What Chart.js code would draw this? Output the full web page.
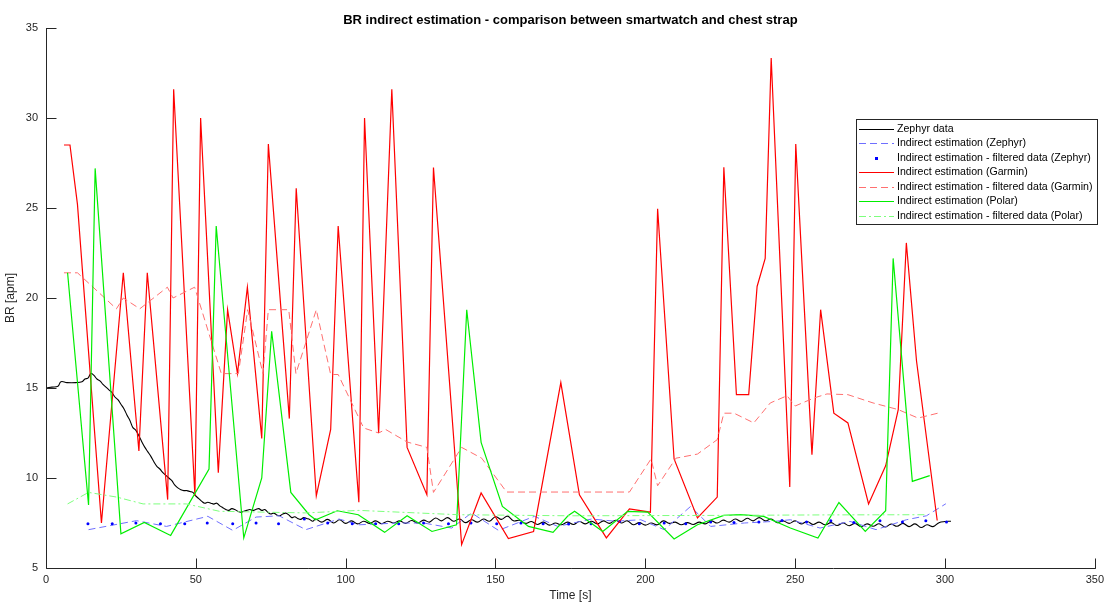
<!DOCTYPE html>
<html>
<head>
<meta charset="utf-8">
<script src="https://cdn.jsdelivr.net/npm/chart.js@4.4.1/dist/chart.umd.min.js"></script>
<style>
  html, body { margin: 0; padding: 0; background: #fff; }
</style>
</head>
<body>
<canvas id="c" width="1109" height="604"></canvas>
<script>
// valores

const zephyrT = [0, 2, 4, 5, 7, 10, 12, 13, 14, 15, 16, 17, 18, 19, 20, 21, 22, 23, 24, 25, 26, 27, 28, 29,
  30, 31, 32, 33, 34, 35, 36, 37, 38, 39, 40, 41, 42, 43, 44, 45, 46, 47, 48, 49, 50, 51, 52, 53, 54, 55, 56,
  57, 58, 59, 60, 61, 62, 63, 64, 65, 66, 67, 68, 69, 70, 71, 72, 73, 74, 75, 76, 77, 78, 79, 80, 81, 82, 83,
  84, 85, 86, 87, 88, 89,
  90, 92, 94, 96, 98, 100, 102, 104, 106, 108, 110, 112, 114, 116, 118, 120, 122, 124, 126, 128, 130, 132,
  134, 136, 138, 140, 142, 144, 146, 148, 150, 152, 154, 156, 158, 160, 162, 164, 166, 168, 170, 172, 174,
  176, 178, 180, 182, 184, 186, 188, 190, 192, 194, 196, 198, 200, 202, 204, 206, 208, 210, 212, 214, 216,
  218, 220, 222, 224, 226, 228, 230, 232, 234, 236, 238, 240, 242, 244, 246, 248, 250, 252, 254, 256, 258,
  260, 262, 264, 266, 268, 270, 272, 274, 276, 278, 280, 282, 284, 286, 288, 290, 292, 294, 296, 298, 300, 302];
const zephyrBR = [15.0, 15.05, 15.1, 15.35, 15.3, 15.3, 15.35, 15.5, 15.55, 15.8, 15.7, 15.5, 15.4, 15.2, 15.05,
  14.9, 14.75, 14.5, 14.35, 14.1, 13.85, 13.5, 13.2, 12.8, 12.65, 12.35, 12.0, 11.7, 11.45, 11.2, 10.9, 10.65,
  10.5, 10.3, 10.15, 10.0, 9.85, 9.6, 9.45, 9.35, 9.3, 9.3, 9.25, 9.2, 9.0, 8.85, 8.7, 8.6, 8.65, 8.6, 8.55,
  8.6, 8.45, 8.35, 8.25, 8.2, 8.3, 8.25, 8.15, 8.1, 8.15, 8.2, 8.25, 8.2, 8.25, 8.3, 8.2, 8.25, 8.1, 8.0, 8.05,
  7.95, 7.9, 8.0, 8.05, 7.95, 7.8, 7.85, 7.75, 7.7, 7.8, 7.75, 7.7, 7.6,
  7.72, 7.55, 7.70, 7.50, 7.68, 7.48, 7.62, 7.45, 7.60, 7.48, 7.62, 7.46, 7.60, 7.50, 7.62, 7.48, 7.64, 7.50,
  7.66, 7.55, 7.78, 7.62, 7.80, 7.60, 7.72, 7.52, 7.68, 7.55, 7.72, 7.60, 7.85, 7.70, 7.88, 7.62, 7.65, 7.48,
  7.58, 7.42, 7.55, 7.38, 7.50, 7.40, 7.55, 7.42, 7.58, 7.45, 7.60, 7.45, 7.62, 7.48, 7.65, 7.50, 7.62, 7.40,
  7.52, 7.38, 7.50, 7.40, 7.62, 7.48, 7.55, 7.40, 7.52, 7.42, 7.55, 7.45, 7.62, 7.50, 7.66, 7.55, 7.72, 7.58,
  7.76, 7.62, 7.80, 7.62, 7.72, 7.52, 7.62, 7.48, 7.62, 7.45, 7.58, 7.42, 7.55, 7.40, 7.52, 7.36, 7.50, 7.35,
  7.48, 7.30, 7.45, 7.32, 7.46, 7.28, 7.44, 7.32, 7.48, 7.30, 7.45, 7.25, 7.40, 7.30, 7.52, 7.58, 7.60];

const zIndT = [14.2, 30.2, 40.2, 54, 62.3, 70.1, 77.8, 86.7, 97.8, 104.4, 117.7, 126, 135.4, 142, 151, 163,
  170.8, 182, 190, 198.5, 206.3, 215.1, 221.8, 233, 243, 248.4, 258.3, 268.3, 277, 287.1, 293.8, 300.3];
const zIndBR = [7.13, 7.63, 7.31, 7.87, 7.09, 7.83, 7.9, 7.13, 7.72, 7.4, 7.5, 7.5, 7.22, 8.06, 7.09, 7.87,
  7.31, 7.72, 7.6, 7.68, 7.13, 8.42, 7.31, 7.5, 7.59, 7.68, 7.22, 7.59, 7.13, 7.68, 7.9, 8.57];

const zFiltT = [14, 22.1, 30, 38.2, 46.3, 53.8, 62.3, 70.1, 77.6, 86.2, 94, 102.2, 110, 117.7, 126, 134.3,
  141.8, 150.4, 158.5, 165.9, 174.4, 181.9, 191.4, 198, 206.3, 213.5, 221.8, 229.6, 237.9, 245.6, 253.8,
  261.9, 269.6, 278.3, 285.8, 293.6, 300.5];
const zFiltBR = [7.46, 7.46, 7.5, 7.46, 7.46, 7.5, 7.46, 7.5, 7.46, 7.72, 7.5, 7.46, 7.46, 7.46, 7.5, 7.46,
  7.5, 7.46, 7.5, 7.46, 7.44, 7.46, 7.59, 7.46, 7.5, 7.46, 7.55, 7.53, 7.55, 7.64, 7.55, 7.63, 7.53, 7.63,
  7.55, 7.63, 7.55];

const garminT = [6, 8, 10.5, 18.5, 25.8, 31, 33.8, 40.6, 42.6, 49.7, 51.6, 57.5, 60.6, 63.9, 67.2, 72, 74.2,
  81.2, 83.5, 90.2, 95, 97.5, 104.4, 106.3, 111, 115.4, 120.5, 127.1, 129.3, 138.7, 145.2, 154.3, 162.7, 171.8,
  178, 187, 194.7, 201.7, 204.1, 209.6, 217.4, 224, 226.2, 230.4, 234.5, 237.3, 240, 242, 248.2, 250.2, 255.6,
  258.5, 262.9, 267.6, 274.5, 280.2, 284.4, 287.1, 290.5, 297.4];
const garminBR = [28.5, 28.5, 25.2, 7.5, 21.4, 11.5, 21.4, 8.8, 31.6, 9.0, 30.0, 10.3, 19.35, 15.8, 20.6, 12.2,
  28.55, 13.3, 26.1, 9.0, 12.7, 24.0, 8.65, 30.0, 12.5, 31.6, 11.7, 9.07, 27.25, 6.3, 9.17, 6.63, 7.03, 15.3,
  9.07, 6.67, 8.28, 8.1, 24.96, 11.06, 7.78, 8.94, 27.26, 14.63, 14.63, 20.64, 22.2, 33.33, 9.5, 28.55, 11.3,
  19.35, 13.6, 13.06, 8.56, 10.68, 13.8, 23.06, 16.5, 7.64];

const gFiltT = [6, 10.5, 23.5, 25.8, 31.3, 40.5, 42.4, 49.6, 58.5, 64.2, 67.3, 72.4, 74.2, 81, 83.4, 90.2, 95,
  97.5, 106, 111, 113.3, 120.5, 127.1, 129.3, 138.7, 145.4, 153.7, 194.7, 201.9, 204.1, 210.2, 217.4, 224,
  226.2, 229.6, 236.2, 241.7, 247.3, 250, 256.2, 260.6, 267.6, 276, 284.4, 291, 298.8];
const gFiltBR = [21.4, 21.4, 19.4, 20.0, 19.4, 20.6, 20.0, 20.6, 15.8, 15.8, 19.35, 15.8, 19.35, 19.35, 15.8,
  19.35, 15.75, 15.75, 12.78, 12.5, 12.7, 12.0, 11.7, 9.2, 11.7, 11.1, 9.22, 9.22, 11.06, 9.57, 11.1, 11.33,
  12.13, 13.6, 13.6, 13.06, 14.17, 14.57, 14.0, 14.44, 14.67, 14.63, 14.17, 13.8, 13.33, 13.65];

const polarT = [7.2, 14.2, 16.4, 25, 32.8, 41.6, 54.4, 56.8, 66, 72, 75.3, 81.7, 87.8, 90, 97.2, 104.2, 113,
  120.5, 128.8, 137, 140.4, 145.2, 152.3, 161, 169.2, 174.2, 176.4, 185.8, 194.1, 200.8, 209.6, 217.4, 226.2,
  231.8, 239.5, 248.4, 257.6, 264.6, 273.4, 280.2, 282.7, 289.1, 294.9];
const polarBR = [21.4, 8.5, 27.2, 6.9, 7.53, 6.81, 10.5, 24.0, 6.67, 10.0, 18.15, 9.2, 7.96, 7.68, 8.18, 7.96,
  6.98, 7.9, 7.03, 7.4, 19.35, 11.98, 8.42, 7.31, 6.98, 7.9, 8.15, 7.03, 8.15, 8.1, 6.61, 7.4, 7.92, 7.96,
  7.87, 7.22, 6.67, 8.64, 7.03, 8.18, 22.2, 9.81, 10.13];

const pFiltT = [7.2, 14.2, 23.6, 32.4, 46.8, 57.9, 86.7, 104.4, 137.6, 175, 220, 260, 293.8];
const pFiltBR = [8.56, 9.2, 8.94, 8.56, 8.56, 8.15, 8.06, 8.2, 7.96, 7.9, 7.92, 7.95, 7.96];

const xTicks = [0, 50, 100, 150, 200, 250, 300, 350];
const yTicks = [5, 10, 15, 20, 25, 30, 35];

const titleText = 'BR indirect estimation - comparison between smartwatch and chest strap';
const xLabel = 'Time [s]';
const yLabel = 'BR [apm]';

const pts = (xs, ys) => xs.map((x, i) => ({ x, y: ys[i] }));
const AX = '#262626';
const FONT = '"Liberation Sans", Arial, Helvetica, sans-serif';

// ejes estilo matlab: ticks hacia dentro, titulo y leyenda
const matlabDeco = {
  id: 'matlabDeco',
  afterDraw(chart) {
    const { ctx, chartArea: a, scales: { x, y } } = chart;
    ctx.save();
    ctx.strokeStyle = AX;
    ctx.lineWidth = 1;
    ctx.beginPath();
    const L = Math.round(a.left) + 0.5, B = Math.round(a.bottom) + 0.5;
    ctx.moveTo(L, a.top); ctx.lineTo(L, B); ctx.lineTo(a.right + 1, B);
    x.ticks.forEach(t => {
      const px = Math.round(x.getPixelForValue(t.value)) + 0.5;
      ctx.moveTo(px, B); ctx.lineTo(px, B - 10);
    });
    y.ticks.forEach(t => {
      const py = Math.round(y.getPixelForValue(t.value)) + 0.5;
      ctx.moveTo(L, py); ctx.lineTo(L + 10, py);
    });
    ctx.stroke();

    ctx.fillStyle = '#000';
    ctx.textAlign = 'center';
    ctx.textBaseline = 'middle';
    ctx.font = 'bold 13px ' + FONT;
    ctx.fillText(titleText, (a.left + a.right) / 2, 20);
    ctx.fillStyle = AX;
    ctx.font = '12px ' + FONT;
    ctx.fillText(xLabel, (a.left + a.right) / 2, 596);
    ctx.save();
    ctx.translate(11, (a.top + a.bottom) / 2);
    ctx.rotate(-Math.PI / 2);
    ctx.fillText(yLabel, 0, 0);
    ctx.restore();

    // leyenda, con los estilos ya resueltos de cada dataset
    const bx = 856.5, by = 119.5, bw = 241, bh = 105;
    ctx.fillStyle = '#fff';
    ctx.fillRect(bx, by, bw, bh);
    ctx.strokeStyle = AX;
    ctx.lineWidth = 1;
    ctx.setLineDash([]);
    ctx.strokeRect(bx, by, bw, bh);
    ctx.font = '10.6px ' + FONT;
    ctx.textAlign = 'left';
    chart.data.datasets.forEach((ds, i) => {
      const cy = Math.round(by + 9 + i * 14.5) + 0.5;
      const meta = chart.getDatasetMeta(i);
      const o = (meta.dataset && meta.dataset.options) || ds;
      ctx.save();
      if (ds.showLine === false) {
        ctx.fillStyle = ds.pointBackgroundColor;
        ctx.fillRect(875, cy - 1.5, 3, 3);
      } else {
        ctx.strokeStyle = o.borderColor;
        ctx.lineWidth = 1.1;
        ctx.setLineDash(o.borderDash || []);
        ctx.beginPath();
        ctx.moveTo(859, cy); ctx.lineTo(894, cy);
        ctx.stroke();
      }
      ctx.restore();
      ctx.fillStyle = '#000';
      ctx.fillText(ds.label, 897, cy);
    });
    ctx.restore();
  }
};

new Chart(document.getElementById('c'), {
  type: 'line',
  data: {
    datasets: [
      {
        label: 'Zephyr data',
        data: pts(zephyrT, zephyrBR),
        borderColor: '#000000',
        borderWidth: 1.1,
        pointRadius: 0,
        tension: 0.4,
        order: 7,
      },
      {
        label: 'Indirect estimation (Zephyr)',
        data: pts(zIndT, zIndBR),
        borderColor: '#6f6fff',
        borderWidth: 1,
        borderDash: [7, 4],
        pointRadius: 0,
        order: 6,
      },
      {
        label: 'Indirect estimation - filtered data (Zephyr)',
        data: pts(zFiltT, zFiltBR),
        showLine: false,
        pointRadius: 1.5,
        pointBorderWidth: 0,
        pointBackgroundColor: '#0000ff',
        borderColor: '#0000ff',
        order: 5,
      },
      {
        label: 'Indirect estimation (Garmin)',
        data: pts(garminT, garminBR),
        borderColor: '#ff0000',
        borderWidth: 1.2,
        pointRadius: 0,
        order: 4,
      },
      {
        label: 'Indirect estimation - filtered data (Garmin)',
        data: pts(gFiltT, gFiltBR),
        borderColor: '#ff6f6f',
        borderWidth: 1,
        borderDash: [7, 4],
        pointRadius: 0,
        order: 3,
      },
      {
        label: 'Indirect estimation (Polar)',
        data: pts(polarT, polarBR),
        borderColor: '#00ee00',
        borderWidth: 1.2,
        pointRadius: 0,
        order: 2,
      },
      {
        label: 'Indirect estimation - filtered data (Polar)',
        data: pts(pFiltT, pFiltBR),
        borderColor: '#7dff7d',
        borderWidth: 1,
        borderDash: [7, 3, 2, 3],
        pointRadius: 0,
        order: 1,
      },
    ]
  },
  options: {
    responsive: false,
    animation: false,
    layout: { padding: { top: 28, right: 11, left: 0, bottom: 0 } },
    scales: {
      x: {
        type: 'linear',
        min: 0, max: 350,
        afterBuildTicks: s => { s.ticks = xTicks.map(v => ({ value: v })); },
        afterFit: s => { s.height = 36; },
        grid: { display: false, drawTicks: false },
        border: { display: false },
        ticks: { color: AX, font: { size: 11, family: FONT }, padding: 5, maxRotation: 0 },
      },
      y: {
        min: 5, max: 35,
        afterBuildTicks: s => { s.ticks = yTicks.map(v => ({ value: v })); },
        afterFit: s => { s.width = 46; },
        grid: { display: false, drawTicks: false },
        border: { display: false },
        ticks: { color: AX, font: { size: 11, family: FONT }, padding: 8 },
      },
    },
    plugins: {
      legend: { display: false },
      title: { display: false },
      tooltip: { enabled: false },
    },
  },
  plugins: [matlabDeco],
});
</script>
</body>
</html>
